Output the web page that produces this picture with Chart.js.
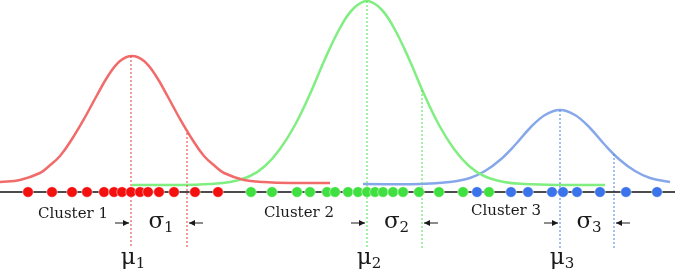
<!DOCTYPE html>
<html>
<head>
<meta charset="utf-8">
<script src="https://cdn.jsdelivr.net/npm/chart.js@4/dist/chart.umd.min.js"></script>
<style>
    html, body { margin: 0; padding: 0; background: #fff; }
    canvas { display: block; }
</style>
</head>
<body>
<canvas id="clusterChart" width="675" height="272"></canvas>
<script>
// heights are in px above the axis line, x in px along it
const redCurveX = [0, 20, 40, 48, 60, 72, 84, 96, 108, 120, 132, 144, 156, 168, 180, 192, 204, 216, 224, 244, 264, 290, 330];
const redCurveY = [10, 12, 19, 25, 36, 53, 73, 95, 116, 131, 136, 131, 116, 95, 73, 53, 36, 25, 19, 12, 10, 9, 9];
const greenCurveX = [132, 180, 210, 230, 250, 265, 280, 295, 310, 325, 340, 353, 367, 381, 394, 409, 424, 439, 454, 469, 484, 504, 524, 560, 605];
const greenCurveY = [7, 7, 8, 10, 16, 26, 43, 67, 98, 133, 164, 183, 191, 183, 164, 133, 98, 67, 43, 26, 16, 10, 8, 7, 7];
const blueCurveX = [363, 420, 450, 470, 485, 500, 515, 530, 545, 560, 575, 590, 605, 620, 635, 650, 670];
const blueCurveY = [8, 8, 10, 14, 21, 32, 47, 64, 77, 82, 77, 64, 47, 32, 21, 14, 10];

const redPoints = [28, 52, 72, 87, 104, 114, 122, 131, 140, 148, 159, 174, 195, 218];
const greenPoints = [251, 272, 297, 310, 327, 335, 348, 358, 367, 375, 383, 393, 403, 419, 439, 463, 489];
const bluePoints = [477, 511, 528, 552, 563, 577, 600, 626, 657];

const clusterNames = ['Cluster 1', 'Cluster 2', 'Cluster 3'];
const meanX = [131, 367, 560];
const sigmaX = [187, 422, 614];
const meanTop = [136, 191, 82];
const sigmaTop = [59, 102, 38];
const guideBottom = -56;

const curveColors = ['#f26b6b', '#80ee80', '#86a8ea'];
const dotColors = ['#f51010', '#3fe03f', '#3b73ea'];
const guideColors = ['#e63a3a', '#4fe04f', '#4a7fe0'];

const toXY = (xs, ys) => xs.map((v, i) => ({ x: v, y: ys[i] }));
const dots = (xs, color) => ({
    type: 'scatter',
    data: xs.map(v => ({ x: v, y: 0 })),
    backgroundColor: color,
    borderColor: 'rgba(255,255,255,0.6)',
    borderWidth: 0.8,
    pointRadius: 5.3
});
const curve = (xs, ys, color) => ({
    type: 'line',
    data: toXY(xs, ys),
    borderColor: color,
    borderWidth: 2.5,
    pointRadius: 0,
    tension: 0.4,
    fill: false
});
const guide = (x, top, color) => ({
    type: 'line',
    data: [{ x: x, y: top }, { x: x, y: guideBottom }],
    borderColor: color,
    borderWidth: 1,
    borderDash: [2, 2],
    pointRadius: 0
});

const datasets = [
    dots(redPoints, dotColors[0]),
    dots(greenPoints, dotColors[1]),
    dots(bluePoints, dotColors[2]),
    {
        type: 'line',
        data: [{ x: 0, y: 0 }, { x: 675, y: 0 }],
        borderColor: '#111',
        borderWidth: 1.3,
        pointRadius: 0
    }
];
for (let i = 0; i < 3; i++) {
    datasets.push(guide(meanX[i], meanTop[i], guideColors[i]));
    datasets.push(guide(sigmaX[i], sigmaTop[i], guideColors[i]));
}
datasets.push(curve(redCurveX, redCurveY, curveColors[0]));
datasets.push(curve(greenCurveX, greenCurveY, curveColors[1]));
datasets.push(curve(blueCurveX, blueCurveY, curveColors[2]));

// text labels and little arrows below the axis
const labelPlugin = {
    id: 'labels',
    afterDatasetsDraw(chart) {
        const { ctx, scales: { x, y } } = chart;
        const clusterOffset = [-58, -68, -54];
        const clusterY = [-22, -21, -19];
        ctx.save();
        ctx.fillStyle = '#1a1a1a';
        ctx.strokeStyle = '#1a1a1a';
        ctx.textBaseline = 'middle';

        const symbol = (sym, sub, cx, cy) => {
            ctx.font = '23px "DejaVu Serif"';
            const w1 = ctx.measureText(sym).width;
            ctx.font = '15px "DejaVu Serif"';
            const w2 = ctx.measureText(sub).width;
            const left = cx - (w1 + w2) / 2;
            ctx.textAlign = 'left';
            ctx.font = '23px "DejaVu Serif"';
            ctx.fillText(sym, left, cy);
            ctx.font = '15px "DejaVu Serif"';
            ctx.fillText(sub, left + w1, cy + 6);
        };

        const arrow = (from, to, py) => {
            const dir = Math.sign(to - from);
            ctx.lineWidth = 1;
            ctx.beginPath();
            ctx.moveTo(from, py);
            ctx.lineTo(to, py);
            ctx.stroke();
            ctx.beginPath();
            ctx.moveTo(to, py);
            ctx.lineTo(to - dir * 6, py - 3);
            ctx.lineTo(to - dir * 6, py + 3);
            ctx.closePath();
            ctx.fill();
        };

        for (let i = 0; i < 3; i++) {
            const m = x.getPixelForValue(meanX[i]);
            const s = x.getPixelForValue(sigmaX[i]);
            ctx.font = '15px "DejaVu Serif"';
            ctx.textAlign = 'center';
            ctx.fillText(clusterNames[i], x.getPixelForValue(meanX[i] + clusterOffset[i]), y.getPixelForValue(clusterY[i]));
            symbol('σ', String(i + 1), (m + s) / 2 + 2, y.getPixelForValue(-30));
            symbol('μ', String(i + 1), m + 2, y.getPixelForValue(-66));
            const ay = y.getPixelForValue(-31);
            arrow(m - 16, m - 2, ay);
            arrow(s + 16, s + 2, ay);
        }
        ctx.restore();
    }
};

new Chart(document.getElementById('clusterChart').getContext('2d'), {
    data: { datasets: datasets },
    options: {
        responsive: false,
        animation: false,
        clip: false,
        layout: { padding: 0, autoPadding: false },
        plugins: { legend: { display: false }, tooltip: { enabled: false } },
        scales: {
            x: { type: 'linear', min: 0, max: 675, display: false },
            y: { type: 'linear', min: -80, max: 192, display: false }
        }
    },
    plugins: [labelPlugin]
});
</script>
</body>
</html>
